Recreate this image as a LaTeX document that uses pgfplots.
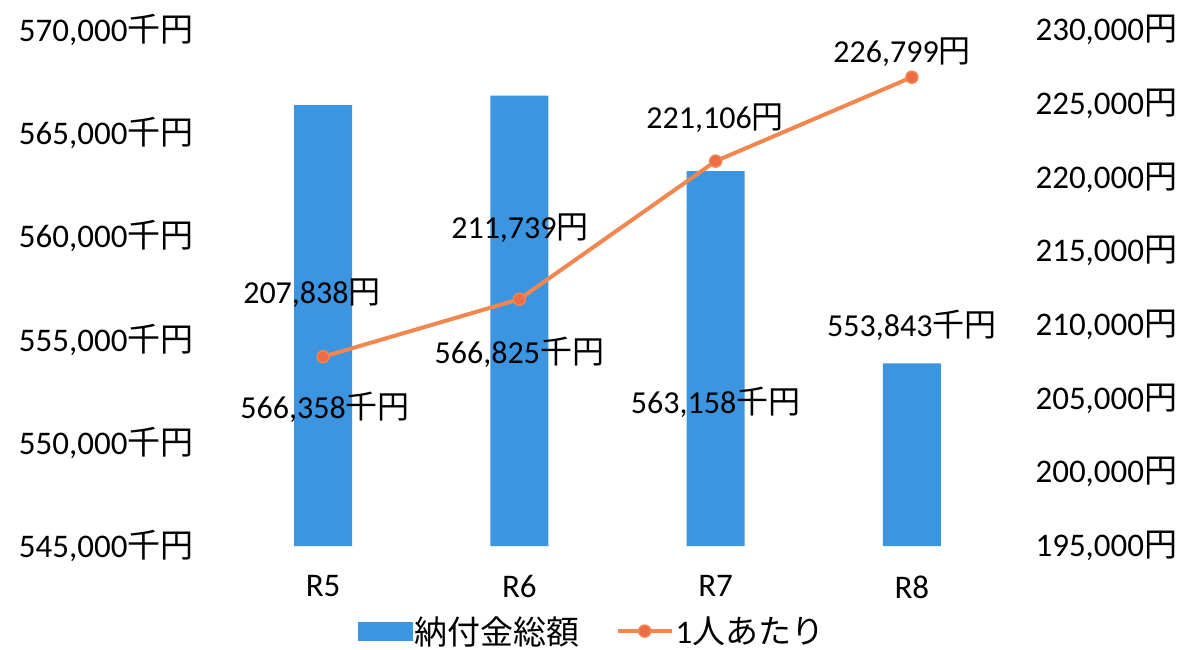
\documentclass[border=0pt]{standalone}
\usepackage{pgfplots}
\pgfplotsset{compat=1.18}
\usepackage{fontspec}
\setmainfont{Carlito}
\newfontfamily\cjk{Noto Sans CJK JP}
\definecolor{barblue}{HTML}{3B95E0}
\definecolor{lineorange}{HTML}{F2864F}
\definecolor{markred}{HTML}{EE6B48}
\begin{document}
\begin{tikzpicture}
\pgfplotsset{
  every axis/.append style={
    width=785pt, height=516pt, scale only axis,
    at={(0,0)}, anchor=south west,
    xmin=-0.5, xmax=3.5,
    axis line style={draw=none},
    tick style={draw=none},
    scaled ticks=false,
    ticklabel style={font=\fontsize{33}{38}\selectfont},
    clip=false,
  }
}
% bars, left axis
\begin{axis}[
  ymin=545000, ymax=570000,
  ytick={545000,550000,555000,560000,565000,570000},
  yticklabels={{545,000{\cjk 千円}},{550,000{\cjk 千円}},{555,000{\cjk 千円}},{560,000{\cjk 千円}},{565,000{\cjk 千円}},{570,000{\cjk 千円}}},
  yticklabel style={xshift=-28pt},
  xtick={0,1,2,3},
  xticklabels={R5,R6,R7,R8},
  xticklabel style={font=\fontsize{33}{38}\selectfont, yshift=-26pt},
]
\addplot[ybar, bar width=58pt, fill=barblue, draw=none] coordinates {
  (0,566358) (1,566825) (2,563158) (3,553843)
};
\node[font=\fontsize{32}{38}\selectfont] at (axis cs:0.01,551734) {566,358{\cjk 千円}};
\node[font=\fontsize{32}{38}\selectfont] at (axis cs:1.0,554399) {566,825{\cjk 千円}};
\node[font=\fontsize{32}{38}\selectfont] at (axis cs:2.0,551977) {563,158{\cjk 千円}};
\node[font=\fontsize{32}{38}\selectfont] at (axis cs:3.0,555707) {553,843{\cjk 千円}};
\end{axis}
% line, right axis
\begin{axis}[
  axis y line*=right,
  hide x axis,
  ymin=195000, ymax=230000,
  ytick={195000,200000,205000,210000,215000,220000,225000,230000},
  yticklabels={{195,000{\cjk 円}},{200,000{\cjk 円}},{205,000{\cjk 円}},{210,000{\cjk 円}},{215,000{\cjk 円}},{220,000{\cjk 円}},{225,000{\cjk 円}},{230,000{\cjk 円}}},
  yticklabel style={xshift=22pt},
  legend style={at={(axis description cs:0.468,-0.165)}, anchor=center,
    draw=none, fill=none, legend columns=2,
    font=\fontsize{33}{38}\selectfont,
    /tikz/every even column/.append style={column sep=34pt}},
  legend image code/.code={
    \draw[#1] (0pt,0pt) -- (54pt,0pt);
    \path[#1, mark repeat=1] plot coordinates {(27pt,0pt)};
  },
]
\addlegendimage{legend image code/.code={\fill[barblue] (0pt,-9pt) rectangle (54pt,9pt);}}
\addlegendentry{{\cjk 納付金総額}}
\addplot[lineorange, line width=4pt, mark=*, mark size=6pt,
  mark options={fill=markred, draw=lineorange, line width=1.5pt}] coordinates {
  (0,207838) (1,211739) (2,221106) (3,226799)
};
\addlegendentry{1{\cjk 人あたり}}
\node[font=\fontsize{32}{38}\selectfont] at (axis cs:-0.057,212161) {207,838{\cjk 円}};
\node[font=\fontsize{32}{38}\selectfont] at (axis cs:1.003,216570) {211,739{\cjk 円}};
\node[font=\fontsize{32}{38}\selectfont] at (axis cs:1.997,224031) {221,106{\cjk 円}};
\node[font=\fontsize{32}{38}\selectfont] at (axis cs:2.95,228508) {226,799{\cjk 円}};
\end{axis}
\pgfresetboundingbox
\useasboundingbox (-225pt,-103pt) rectangle (961pt,546pt);
\end{tikzpicture}
\end{document}
